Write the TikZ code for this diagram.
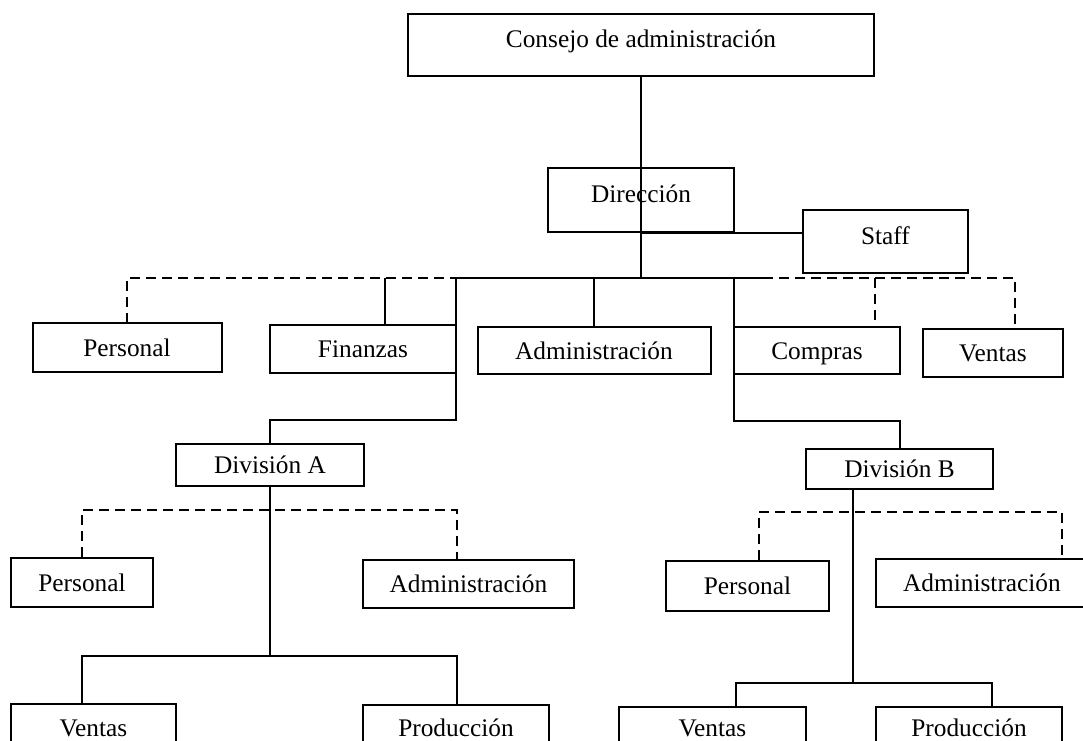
\documentclass[tikz,border=0pt]{standalone}
\usepackage{fontspec}
\setmainfont{Liberation Serif}
\begin{document}
\begin{tikzpicture}[x=0.75pt,y=-0.75pt,
  unit/.style 2 args={draw, line width=1.5pt, inner sep=0pt,
    minimum width=#1*0.75pt, minimum height=#2*0.75pt,
    font=\fontsize{19}{22}\selectfont, text height=13.5pt, text depth=0pt},
  raised/.style={text height=9pt, text depth=4.5pt},
  link/.style={line width=1.5pt, line join=miter},
  stafflink/.style={line width=1.5pt, line join=miter, dash pattern=on 7.5pt off 4.5pt}]

\useasboundingbox (0,0) rectangle (1083,741);
\clip (0,0) rectangle (1083,741);

% --- top management
\node[unit={466}{62}, raised] (consejo) at (641,45) {Consejo de administraci\'on};
\node[unit={186}{64}, raised] (dir) at (641,200) {Direcci\'on};
\node[unit={165}{63}, raised] (staff) at (885.5,241.5) {Staff};

% --- departments
\node[unit={189}{49}] (personal1) at (127,347.5) {Personal};
\node[unit={186}{48}] (finanzas) at (363,349) {Finanzas};
\node[unit={233}{47}] (admin1) at (594,350.5) {Administraci\'on};
\node[unit={166}{47}] (compras) at (817,350.5) {Compras};
\node[unit={140}{48}] (ventas1) at (993,353) {Ventas};

% --- divisions
\node[unit={188}{42}] (divA) at (270,465) {Divisi\'on A};
\node[unit={187}{40}] (divB) at (899.5,469) {Divisi\'on B};

% --- division A units
\node[unit={142}{49}] (personalA) at (82,582.5) {Personal};
\node[unit={211}{48}] (adminA) at (468.5,584) {Administraci\'on};
\node[unit={165}{46}] (ventasA) at (93.5,727) {Ventas};
\node[unit={186}{46}] (prodA) at (456,728) {Producci\'on};

% --- division B units
\node[unit={163}{50}] (personalB) at (747.5,586) {Personal};
\node[unit={212}{48}] (adminB) at (982,583) {Administraci\'on};
\node[unit={187}{42}] (ventasB) at (712.5,728) {Ventas};
\node[unit={186}{42}] (prodB) at (969,728) {Producci\'on};

% --- junction points
\coordinate (bus) at (641,278);
\coordinate (solidL) at (460,278);
\coordinate (solidR) at (763,278);
\coordinate (fdrop) at (385,278);
\coordinate (aTop) at (456,278);
\coordinate (aBend) at (456,420);
\coordinate (bTop) at (734,278);
\coordinate (bBend) at (734,421);
\coordinate (cdrop) at (875,278);
\coordinate (vdrop) at (1015,278);

\coordinate (adL) at (82,510);
\coordinate (adR) at (457,510);
\coordinate (aMid) at (270,656);
\coordinate (aL) at (82,656);
\coordinate (aR) at (457,656);

\coordinate (bdL) at (759,512);
\coordinate (bdR) at (1062,512);
\coordinate (bMid) at (853,683);
\coordinate (bL) at (736,683);
\coordinate (bR) at (992,683);

% --- line authority, top
\draw[link] (consejo.south) -- (bus);
\draw[link] (dir.south) -- (dir.south -| staff.west);
\draw[link] (solidL) -- (solidR);
\draw[link] (fdrop) -- (fdrop |- finanzas.north);
\draw[link] (admin1.north |- bus) -- (admin1.north);
\draw[link] (aTop) -- (aBend) -| (divA.north);
\draw[link] (bTop) -- (bBend) -| (divB.north);

% --- staff relations, top
\draw[stafflink] (solidL) -| (personal1.north);
\draw[stafflink] (solidR) -- (vdrop) -- (vdrop |- ventas1.north);
\draw[stafflink] (cdrop) -- (cdrop |- compras.north);

% --- division A
\draw[link] (divA.south) -- (aMid);
\draw[link] (aL |- ventasA.north) -- (aL) -- (aR) -- (aR |- prodA.north);
\draw[stafflink] (adL |- personalA.north) -- (adL) -- (adR) -- (adR |- adminA.north);

% --- division B
\draw[link] (divB.south -| bMid) -- (bMid);
\draw[link] (bL |- ventasB.north) -- (bL) -- (bR) -- (bR |- prodB.north);
\draw[stafflink] (bdL |- personalB.north) -- (bdL) -- (bdR) -- (bdR |- adminB.north);

\end{tikzpicture}
\end{document}
